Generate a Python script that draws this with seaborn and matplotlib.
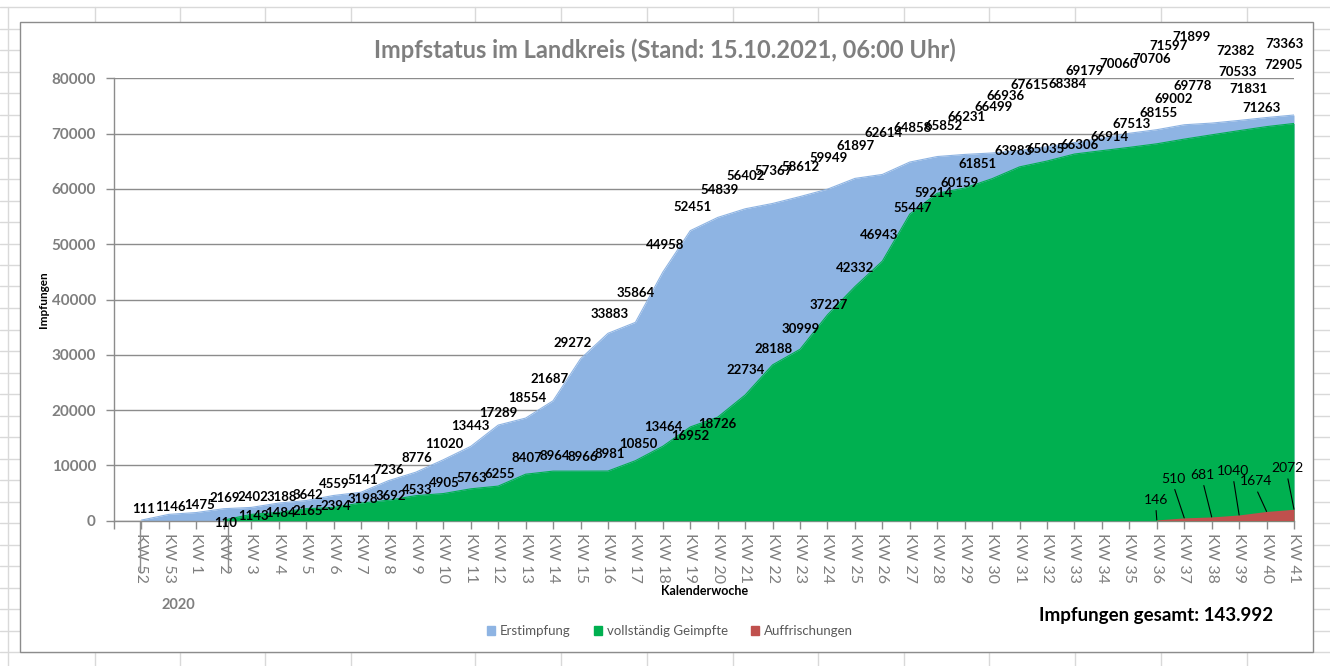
import numpy as np
import pandas as pd
import matplotlib.pyplot as plt
import seaborn as sns
from matplotlib.lines import Line2D
from matplotlib.patches import Rectangle, Patch

# categories (calendar weeks, starting end of 2020)
weeks = ["KW 52", "KW 53"] + [f"KW {n}" for n in range(1, 42)]

# first vaccinations, one value per week
erstimpfung = [111, 1146, 1475, 2169, 2402, 3188, 3642, 4559, 5141, 7236,
               8776, 11020, 13443, 17289, 18554, 21687, 29272, 33883, 35864, 44958,
               52451, 54839, 56402, 57367, 58612, 59949, 61897, 62614, 64858, 65852,
               66231, 66499, 66936, 67615, 68384, 69179, 70060, 70706, 71597, 71899,
               72382, 72905, 73363]
# fully vaccinated, starts at KW 2
vollstaendig_start = "KW 2"
vollstaendig = [110, 1143, 1484, 2165, 2394, 3198, 3692, 4533, 4905, 5763,
                6255, 8407, 8964, 8966, 8981, 10850, 13464, 16952, 18726, 22734,
                28188, 30999, 37227, 42332, 46943, 55447, 59214, 60159, 61851, 63983,
                65035, 66306, 66914, 67513, 68155, 69002, 69778, 70533, 71263, 71831]
# boosters, start at KW 36
auffrischung_start = "KW 36"
auffrischung = [146, 510, 681, 1040, 1674, 2072]

series_names = ["Erstimpfung", "vollständig Geimpfte", "Auffrischungen"]
colors = ["#8EB4E3", "#00B050", "#C0504D"]

# label offsets (pixels) - the labels in the original were nudged around by Excel
BLUE_DX = [2, 2, 3, 1, 2, 3, 2, 1, 2, 0, 1, 1, 0, 0, 2, -3, -8, 2, 0, 2, 2, 2,
           1, 1, 1, 1, 1, 1, 3, 6, 2, 1, -14, -17, -7, -17, -11, -5, -16, -20, -4, 17, -10]
BLUE_DY = [11, 7, 8, 11, 10, 6, 6, 11, 12, 11, 14, 16, 20, 12, 20, 22, 16, 19, 29, 27, 24, 27,
           33, 32, 30, 31, 32, 41, 34, 31, 37, 46, 55, 62, 59, 67, 69, 71, 79, 86, 69, 53, 71]
GREEN_DX = [2, 2, 2, 2, 2, 2, 2, 1, 1, 1, 2, 1, 2, 2, 2, 3, 1, 0, 0, 1,
            1, 1, 1, 0, -3, 3, -4, -5, -15, -6, -1, 5, 8, 2, 2, -11, -19, -2, -5, -45]
GREEN_DY = [-3, -2, -1, -2, 1, 4, 4, 6, 11, 11, 12, 16, 15, 14, 17, 17, 19, -9, -7, 25,
            16, 20, 10, 19, 26, 6, 0, 5, 15, 16, 12, 9, 14, 23, 31, 40, 49, 59, 19, 34]
RED_DX = [-1, -11, -9, -6, -11, -7]
RED_DY = [20, 39, 42, 44, 30, 41]

df = pd.DataFrame({"Woche": weeks, "Erstimpfung": erstimpfung})
df["vollständig Geimpfte"] = pd.Series(vollstaendig, index=range(weeks.index(vollstaendig_start), len(weeks)))
df["Auffrischungen"] = pd.Series(auffrischung, index=range(weeks.index(auffrischung_start), len(weeks)))
df["x"] = np.arange(len(weeks))

sns.set_theme(style="white")
plt.rcParams["font.family"] = ["Lato", "DejaVu Sans"]

W, H = 1330, 666
fig = plt.figure(figsize=(W / 100, H / 100), dpi=100)
fig.patch.set_facecolor("white")

# spreadsheet grid behind the chart object
grid_c = "#D9D9D9"
for cx in [8, 95, 180, 265, 351, 475, 561, 647, 733, 818, 904, 989, 1075, 1161, 1247]:
    fig.add_artist(Line2D([cx / W, cx / W], [0, 1 - 7 / H], transform=fig.transFigure,
                          color=grid_c, lw=1, zorder=-5))
for ry in np.arange(7, H, 21.5):
    fig.add_artist(Line2D([0, 1], [1 - ry / H, 1 - ry / H], transform=fig.transFigure,
                          color=grid_c, lw=1, zorder=-5))
fig.add_artist(Rectangle((20 / W, 1 - 652 / H), 1293 / W, 630 / H, transform=fig.transFigure,
                         facecolor="white", edgecolor="#8C8C8C", lw=1, zorder=-4))

ax = fig.add_axes([114 / W, 1 - 520.7 / H, (1294 - 114) / W, (520.7 - 78.3) / H])
ax.set_facecolor("white")

long = df.melt(id_vars=["x"], value_vars=series_names, var_name="Serie", value_name="Wert").dropna()
sns.lineplot(data=long, x="x", y="Wert", hue="Serie", palette=dict(zip(series_names, colors)),
             lw=0.8, legend=False, ax=ax, zorder=3)
for name, col, z in zip(series_names, colors, [2, 3, 4]):
    d = df[["x", name]].dropna()
    ax.fill_between(d["x"], 0, d[name], color=col, lw=0, zorder=z)

lab_kw = dict(textcoords="offset pixels", ha="center", va="center", fontsize=9.5,
              fontweight="bold", color="black", zorder=6, annotation_clip=False)
for i, v in enumerate(erstimpfung):
    ax.annotate(str(v), (i, v), xytext=(BLUE_DX[i], BLUE_DY[i]), **lab_kw)
g0 = weeks.index(vollstaendig_start)
for k, v in enumerate(vollstaendig):
    ax.annotate(str(v), (g0 + k, v), xytext=(GREEN_DX[k], GREEN_DY[k]), **lab_kw)
r0 = weeks.index(auffrischung_start)
for k, v in enumerate(auffrischung):
    ax.annotate(str(v), (r0 + k, v), xytext=(RED_DX[k], RED_DY[k]), textcoords="offset pixels",
                ha="center", va="center", fontsize=10, color="black", zorder=6,
                arrowprops=dict(arrowstyle="-", color="black", lw=0.8, shrinkA=1, shrinkB=0,
                                relpos=(0.5, 0)))

ax.set_xlim(-1, len(weeks) - 1)
ax.set_ylim(0, 80000)
ax.set_xticks(np.arange(-1, len(weeks)))
ax.set_xticklabels([""] + weeks, rotation=270, fontsize=11.5, color="#7F7F7F")
ax.set_yticks(np.arange(0, 80001, 10000))
ax.set_yticklabels([str(t) for t in range(0, 80001, 10000)], fontsize=11,
                   fontweight="bold", color="#7F7F7F")
ax.tick_params(axis="x", direction="out", length=6, width=1, color="#8C8C8C", pad=3, bottom=True)
ax.tick_params(axis="y", direction="out", length=6, width=1, color="#8C8C8C", pad=7, left=True)
ax.yaxis.grid(True, color="#8C8C8C", lw=1)
ax.xaxis.grid(False)
ax.set_axisbelow(True)
for s in ["top", "right"]:
    ax.spines[s].set_visible(False)
for s in ["left", "bottom"]:
    ax.spines[s].set_color("#8C8C8C")
    ax.spines[s].set_linewidth(1)
ax.set_xlabel("")
ax.set_ylabel("")

# year group separators below the axis
for gx in [-0.07, 3.17]:
    ax.add_line(Line2D([gx, gx], [0, -0.116], transform=ax.get_xaxis_transform(),
                       color="#8C8C8C", lw=1, clip_on=False))

fig.text(0.5, 1 - 50 / H, "Impfstatus im Landkreis (Stand: 15.10.2021, 06:00 Uhr)",
         ha="center", va="center", fontsize=17, fontweight="bold", color="#7F7F7F")
fig.text(43 / W, 1 - 300 / H, "Impfungen", rotation=90, ha="center", va="center",
         fontsize=8.5, fontweight="bold", color="black")
fig.text(705 / W, 1 - 591 / H, "Kalenderwoche", ha="center", va="center",
         fontsize=9, fontweight="bold", color="black")
fig.text(178 / W, 1 - 605 / H, "2020", ha="center", va="center",
         fontsize=10.5, fontweight="bold", color="#7F7F7F")
fig.text(1156 / W, 1 - 615 / H, "Impfungen gesamt: 143.992", ha="center", va="center",
         fontsize=13.5, fontweight="bold", color="black")

handles = [Patch(facecolor=c, edgecolor=c) for c in colors]
fig.legend(handles, series_names, loc="center", bbox_to_anchor=(670 / W, 1 - 631 / H), ncol=3,
           frameon=False, fontsize=9.5, handlelength=0.6, handleheight=0.6, handletextpad=0.35,
           columnspacing=1.8, labelcolor="#595959")

fig.savefig("out.png", dpi=100)
